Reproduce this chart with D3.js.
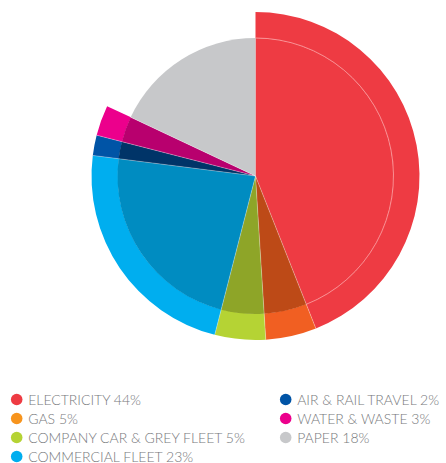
<!DOCTYPE html>
<html><head><meta charset="utf-8">
<script src="https://cdn.jsdelivr.net/npm/d3@7"></script>
<style>html,body{margin:0;padding:0;background:#fff;}svg{display:block;}</style>
</head><body>
<svg id="chart" width="446" height="463"></svg>
<script>
const categories = ["ELECTRICITY", "GAS", "COMPANY CAR & GREY FLEET", "COMMERCIAL FLEET", "AIR & RAIL TRAVEL", "WATER & WASTE", "PAPER"];
const values = [44, 5, 5, 23, 2, 3, 18];
const hasOuterRing = [true, true, true, true, true, true, false];
const outerColors = ["#EE3B43", "#F15F22", "#B5D334", "#00AEEF", "#0054A6", "#EC008C", "#C7C8CA"];
const innerColors = ["#EE3B43", "#BD4A17", "#8EA528", "#008CC1", "#003468", "#B8006E", "#C7C8CA"];
const legendColors = ["#EE3B43", "#F7941D", "#B5D334", "#00AEEF", "#0054A6", "#EC008C", "#C7C8CA"];

const svg = d3.select("#chart");
const cx = 255.5, cy = 176;
const rInner = 138, rOuter = 164;

const data = categories.map((c, i) => ({name: c, value: values[i], ring: hasOuterRing[i], i}));
const pie = d3.pie().value(d => d.value).sort(null).startAngle(0).endAngle(2 * Math.PI);
const arcs = pie(data);

const g = svg.append("g").attr("transform", `translate(${cx},${cy})`);
const outerArc = d3.arc().innerRadius(rInner - 0.3).outerRadius(rOuter);
const innerArc = d3.arc().innerRadius(0).outerRadius(rInner);

g.selectAll("path.outer").data(arcs.filter(a => a.data.ring)).join("path")
  .attr("class", "outer")
  .attr("d", outerArc)
  .attr("fill", a => outerColors[a.data.i]);

g.selectAll("path.inner").data(arcs).join("path")
  .attr("class", "inner")
  .attr("d", innerArc)
  .attr("fill", a => innerColors[a.data.i]);

// faint radial separators between slices
arcs.forEach((a, k) => {
  const prev = arcs[(k - 1 + arcs.length) % arcs.length];
  const r = Math.max(a.data.ring ? rOuter : rInner, prev.data.ring ? rOuter : rInner);
  if (k === 0) return;
  const ang = a.startAngle;
  const rr = Math.min(a.data.ring ? rOuter : rInner, prev.data.ring ? rOuter : rInner);
  g.append("line")
    .attr("x1", 0).attr("y1", 0)
    .attr("x2", rr * Math.sin(ang)).attr("y2", -rr * Math.cos(ang))
    .attr("stroke", "rgba(255,255,255,0.5)").attr("stroke-width", 0.6);
});

// thin light line marking the inner radius on the first slice
const first = arcs[0];
g.append("path")
  .attr("d", d3.arc().innerRadius(rInner).outerRadius(rInner)({startAngle: first.startAngle, endAngle: first.endAngle}))
  .attr("fill", "none").attr("stroke", "rgba(255,200,200,0.55)").attr("stroke-width", 0.6);

// legend
const legend = svg.append("g");
const colX = [16.7, 285.7], rowY0 = 399.5, rowH = 19;
const perCol = 4;
data.forEach((d, i) => {
  const col = Math.floor(i / perCol), row = i % perCol;
  const x = colX[col], y = rowY0 + row * rowH;
  legend.append("circle").attr("cx", x).attr("cy", y).attr("r", 5.8).attr("fill", legendColors[i]);
  legend.append("text").attr("x", x + 11.5).attr("y", y + 5)
    .attr("font-family", "Lato, sans-serif").attr("font-weight", 300)
    .attr("font-size", 14).attr("fill", "#77797C")
    .text(`${d.name} ${d.value}%`);
});
</script>
</body></html>
